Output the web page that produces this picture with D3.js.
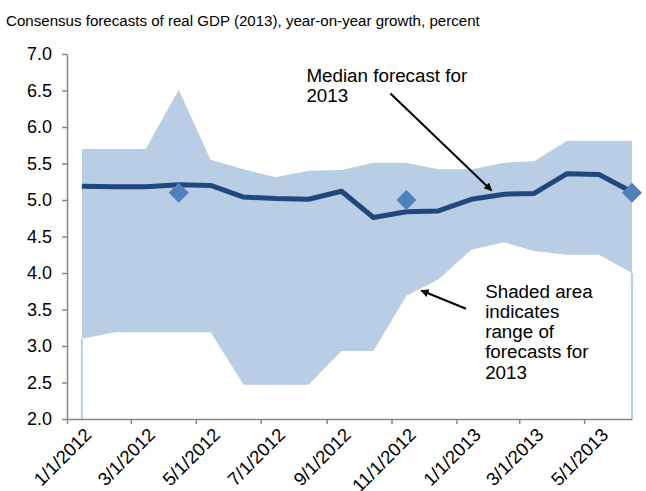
<!DOCTYPE html>
<html>
<head>
<meta charset="utf-8">
<script src="https://cdn.jsdelivr.net/npm/d3@7"></script>
<style>
  body { margin: 0; background: #fff; }
  svg text { font-family: "Liberation Sans", Arial, sans-serif; fill: #000; }
  .axis path, .axis line { stroke: #868686; stroke-width: 1.5; }
  .axis text { font-size: 18px; }
  .x-axis text { font-size: 18.5px; }
</style>
</head>
<body>
<svg id="chart"></svg>
<script>
// Survey dates (mid-month consensus releases)
const SURVEY_DATES = [
  "2012-01-15", "2012-02-15", "2012-03-15", "2012-04-15", "2012-05-15", "2012-06-15",
  "2012-07-15", "2012-08-15", "2012-09-15", "2012-10-15", "2012-11-15", "2012-12-15",
  "2013-01-15", "2013-02-15", "2013-03-15", "2013-04-15", "2013-05-15", "2013-06-15",
];

const MEDIAN = [5.19, 5.18, 5.18, 5.21, 5.2, 5.04, 5.02, 5.01, 5.12, 4.76, 4.84, 4.85, 5.01, 5.08, 5.09, 5.36, 5.35, 5.11];
const RANGE_LOW = [3.1, 3.19, 3.19, 3.19, 3.19, 2.47, 2.47, 2.47, 2.93, 2.93, 3.69, 3.91, 4.32, 4.42, 4.3, 4.25, 4.25, 4.0];
const RANGE_HIGH = [5.7, 5.7, 5.7, 6.51, 5.55, 5.42, 5.31, 5.4, 5.41, 5.51, 5.51, 5.42, 5.42, 5.51, 5.53, 5.81, 5.81, 5.81];

// Diamond markers
const MARKER_DATES = ["2012-04-15", "2012-11-15", "2013-06-15"];
const MARKER_VALUES = [5.1, 5.0, 5.1];

const Y_TICKS = [2.0, 2.5, 3.0, 3.5, 4.0, 4.5, 5.0, 5.5, 6.0, 6.5, 7.0];

const TITLE = "Consensus forecasts of real GDP (2013), year-on-year growth, percent";

const parseDate = d3.timeParse("%Y-%m-%d");

const config = {
  width: 646,
  height: 491,
  margin: { top: 54, right: 14, bottom: 72, left: 67 },
};

const svg = d3.select("#chart")
  .attr("width", config.width)
  .attr("height", config.height);

const innerWidth = config.width - config.margin.left - config.margin.right;
const innerHeight = config.height - config.margin.top - config.margin.bottom;

const data = SURVEY_DATES.map((d, i) => ({
  date: parseDate(d),
  median: MEDIAN[i],
  low: RANGE_LOW[i],
  high: RANGE_HIGH[i],
}));

const markers = MARKER_DATES.map((d, i) => ({ date: parseDate(d), value: MARKER_VALUES[i] }));

// Scales
const xScale = d3.scaleTime()
  .domain([parseDate("2012-01-01"), d3.max(data, (d) => d.date)])
  .range([0, innerWidth]);

const yScale = d3.scaleLinear()
  .domain([2, 7])
  .range([innerHeight, 0]);

const chart = svg.append("g")
  .attr("transform", `translate(${config.margin.left}, ${config.margin.top})`);

// Title
svg.append("text")
  .attr("x", 6)
  .attr("y", 26)
  .style("font-size", "15.1px")
  .text(TITLE);

// Shaded range
const area = d3.area()
  .x((d) => xScale(d.date))
  .y0((d) => yScale(d.low))
  .y1((d) => yScale(d.high));

chart.append("path")
  .datum(data)
  .attr("fill", "#b9cde5")
  .attr("d", area);

// thin edges from the stacked-area base
const edges = [data[0], data[data.length - 1]];
chart.selectAll(".edge")
  .data(edges)
  .join("line")
  .attr("class", "edge")
  .attr("x1", (d) => xScale(d.date))
  .attr("x2", (d) => xScale(d.date))
  .attr("y1", (d) => yScale(d.low))
  .attr("y2", yScale(2))
  .attr("stroke", "#b9cde5")
  .attr("stroke-width", 2);

// Median line
const line = d3.line()
  .x((d) => xScale(d.date))
  .y((d) => yScale(d.median));

chart.append("path")
  .datum(data)
  .attr("fill", "none")
  .attr("stroke", "#1f497d")
  .attr("stroke-width", 5)
  .attr("stroke-linejoin", "round")
  .attr("d", line);

// Diamonds
chart.selectAll(".marker")
  .data(markers)
  .join("path")
  .attr("class", "marker")
  .attr("d", d3.symbol(d3.symbolSquare, 200))
  .attr("transform", (d) => `translate(${xScale(d.date)}, ${yScale(d.value)}) rotate(45)`)
  .attr("fill", "#4f81bd");

// Axes
const xAxis = d3.axisBottom(xScale)
  .ticks(d3.timeMonth.every(2))
  .tickFormat(d3.timeFormat("%-m/%-d/%Y"))
  .tickSize(5)
  .tickSizeOuter(0);

const yAxis = d3.axisLeft(yScale)
  .tickValues(Y_TICKS)
  .tickFormat(d3.format(".1f"))
  .tickSize(5)
  .tickSizeOuter(0);

chart.append("g")
  .attr("class", "axis x-axis")
  .attr("transform", `translate(0, ${innerHeight})`)
  .call(xAxis)
  .selectAll("text")
  .attr("transform", "translate(25, 17) rotate(-45)")
  .attr("dy", "0")
  .attr("y", 0)
  .style("text-anchor", "end");

chart.append("g")
  .attr("class", "axis y-axis")
  .call(yAxis)
  .selectAll("text")
  .attr("x", -15);

// Annotations
const defs = svg.append("defs");
defs.append("marker")
  .attr("id", "arrow")
  .attr("viewBox", "0 0 10 10")
  .attr("refX", 9)
  .attr("refY", 5)
  .attr("markerWidth", 8)
  .attr("markerHeight", 8)
  .attr("markerUnits", "userSpaceOnUse")
  .attr("orient", "auto")
  .append("path")
  .attr("d", "M0,0L10,5L0,10Z")
  .attr("fill", "#000");

const ANNOTATIONS = [
  {
    lines: ["Median forecast for", "2013"],
    textAt: ["2012-08-13", 6.62],
    from: ["2012-10-31", 6.46],
    to: ["2013-02-03", 5.13],
  },
  {
    lines: ["Shaded area", "indicates", "range of", "forecasts for", "2013"],
    textAt: ["2013-01-28", 3.66],
    from: ["2013-01-10", 3.51],
    to: ["2012-11-29", 3.76],
  },
];

ANNOTATIONS.forEach((a) => {
  const tx = xScale(parseDate(a.textAt[0]));
  const ty = yScale(a.textAt[1]);
  chart.append("text")
    .attr("x", tx)
    .attr("y", ty)
    .style("font-size", "18.8px")
    .selectAll("tspan")
    .data(a.lines)
    .join("tspan")
    .attr("x", tx)
    .attr("dy", (d, i) => (i === 0 ? 0 : 20.2))
    .text((d) => d);

  chart.append("line")
    .attr("x1", xScale(parseDate(a.from[0])))
    .attr("y1", yScale(a.from[1]))
    .attr("x2", xScale(parseDate(a.to[0])))
    .attr("y2", yScale(a.to[1]))
    .attr("stroke", "#000")
    .attr("stroke-width", 2)
    .attr("marker-end", "url(#arrow)");
});
</script>
</body>
</html>
